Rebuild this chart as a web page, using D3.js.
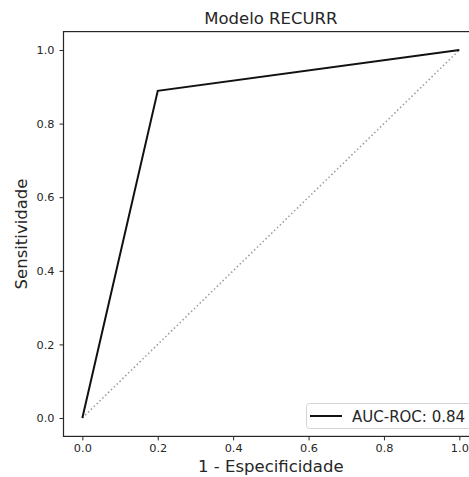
<!DOCTYPE html>
<html><head><meta charset="utf-8">
<script src="https://cdn.jsdelivr.net/npm/d3@7"></script>
<style>body{margin:0;background:#fff;} text{font-family:"DejaVu Sans",sans-serif;}</style>
</head><body><svg id="c" width="469" height="477"></svg>
<script>
const fpr = [0.0, 0.2, 1.0];
const tpr = [0.0, 0.889, 1.0];
const diagX = [0, 1];
const diagY = [0, 1];
const xTicks = [0.0, 0.2, 0.4, 0.6, 0.8, 1.0];
const yTicks = [0.0, 0.2, 0.4, 0.6, 0.8, 1.0];
const title = "Modelo RECURR";
const xLabel = "1 - Especificidade";
const yLabel = "Sensitividade";
const legendLabel = "AUC-ROC: 0.84";

const svg = d3.select("#c");
const x = d3.scaleLinear().domain([-0.05, 1.05]).range([63.5, 478.2]);
const y = d3.scaleLinear().domain([-0.05, 1.05]).range([436.4, 31.6]);
const ink = "#262626";

// diagonal
svg.append("path")
  .datum(diagX.map((d,i)=>[d, diagY[i]]))
  .attr("d", d3.line().x(d=>x(d[0])).y(d=>y(d[1])))
  .attr("fill","none").attr("stroke","#999").attr("stroke-width",1.5)
  .attr("stroke-dasharray","1.5,2.5");

// ROC
svg.append("path")
  .datum(fpr.map((d,i)=>[d, tpr[i]]))
  .attr("d", d3.line().x(d=>x(d[0])).y(d=>y(d[1])))
  .attr("fill","none").attr("stroke","#111").attr("stroke-width",2)
  .attr("stroke-linejoin","miter");

// spines
svg.append("rect").attr("x",x(-0.05)).attr("y",y(1.05))
  .attr("width",x(1.05)-x(-0.05)).attr("height",y(-0.05)-y(1.05))
  .attr("fill","none").attr("stroke",ink).attr("stroke-width",1.2);

const xAxis = svg.append("g").attr("transform",`translate(0,${y(-0.05)})`)
  .call(d3.axisBottom(x).tickValues(xTicks).tickFormat(d3.format(".1f")).tickSize(4).tickPadding(4));
const yAxis = svg.append("g").attr("transform",`translate(${x(-0.05)},0)`)
  .call(d3.axisLeft(y).tickValues(yTicks).tickFormat(d3.format(".1f")).tickSize(4).tickPadding(5));
[xAxis,yAxis].forEach(a=>{
  a.select(".domain").remove();
  a.selectAll("line").attr("stroke",ink).attr("stroke-width",1);
  a.selectAll("text").attr("fill",ink).style("font-family","DejaVu Sans").style("font-size","11.3px");
});

svg.append("text").attr("x",(x(-0.05)+x(1.05))/2).attr("y",24)
  .attr("text-anchor","middle").attr("fill",ink).style("font-size","16.5px").text(title);
svg.append("text").attr("x",(x(-0.05)+x(1.05))/2).attr("y",472)
  .attr("text-anchor","middle").attr("fill",ink).style("font-size","16.5px").text(xLabel);
svg.append("text").attr("transform",`translate(27,${(y(-0.05)+y(1.05))/2}) rotate(-90)`)
  .attr("text-anchor","middle").attr("fill",ink).style("font-size","16.5px").text(yLabel);

// legend
const lg = svg.append("g");
lg.append("rect").attr("x",306.5).attr("y",403.5).attr("width",168).attr("height",25)
  .attr("rx",3).attr("fill","#fff").attr("fill-opacity",0.8).attr("stroke","#d5d5d5");
lg.append("line").attr("x1",310).attr("x2",342).attr("y1",416).attr("y2",416)
  .attr("stroke","#111").attr("stroke-width",2);
lg.append("text").attr("x",352).attr("y",421.5).attr("fill",ink).style("font-size","15px").text(legendLabel);
</script></body></html>
